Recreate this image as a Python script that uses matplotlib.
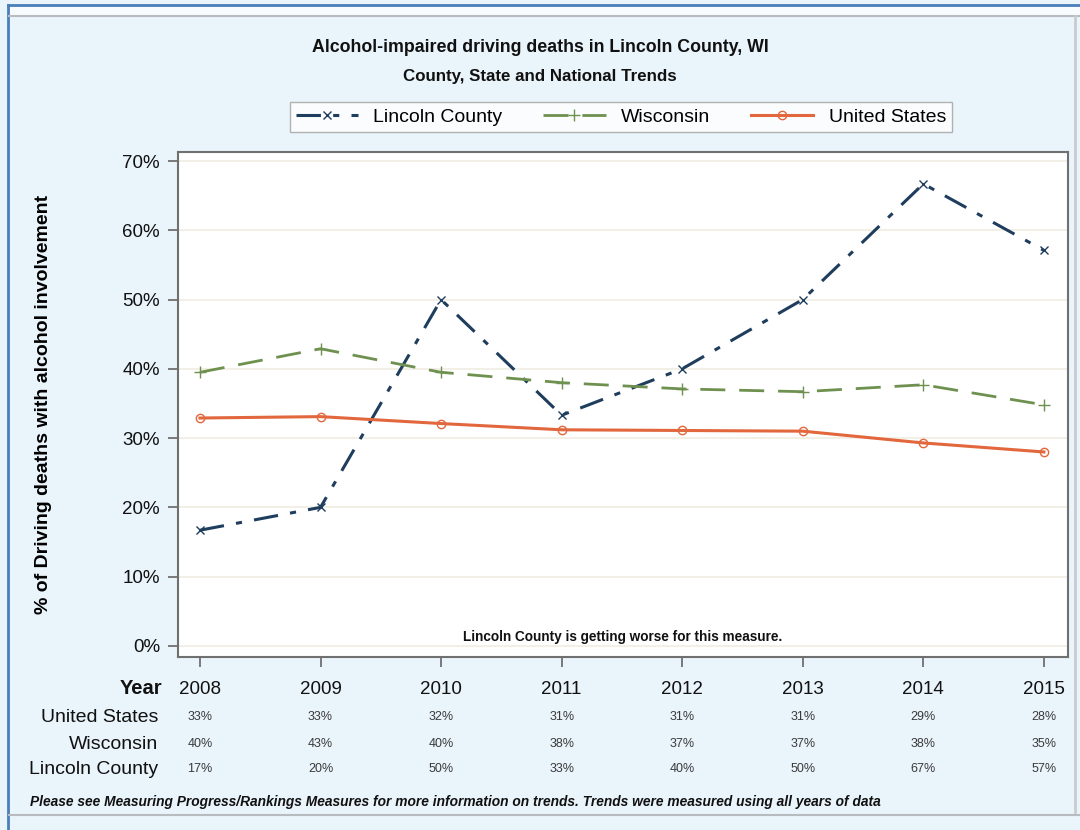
import matplotlib.pyplot as plt
from matplotlib.lines import Line2D
from matplotlib.patches import Rectangle
from matplotlib.transforms import blended_transform_factory

plt.rcParams["font.family"] = ["Liberation Sans", "DejaVu Sans"]

years = [2008, 2009, 2010, 2011, 2012, 2013, 2014, 2015]
lincoln = [16.7, 20.0, 50.0, 33.3, 40.0, 50.0, 66.7, 57.1]
wisconsin = [39.5, 42.9, 39.5, 38.0, 37.1, 36.7, 37.7, 34.8]
united_states = [32.9, 33.1, 32.1, 31.2, 31.1, 31.0, 29.3, 28.0]

us_labels = ["33%", "33%", "32%", "31%", "31%", "31%", "29%", "28%"]
wi_labels = ["40%", "43%", "40%", "38%", "37%", "37%", "38%", "35%"]
lc_labels = ["17%", "20%", "50%", "33%", "40%", "50%", "67%", "57%"]

BG = "#eaf4fb"
NAVY = "#1f3d5c"
GREEN = "#6f9150"
ORANGE = "#e2673d"

fig = plt.figure(figsize=(10.8, 8.3), dpi=100)
fig.patch.set_facecolor(BG)

# outer frame decorations
fig.add_artist(Line2D([8 / 1080, 8 / 1080], [0, 1 - 5 / 830], transform=fig.transFigure,
                      color="#4a7ebb", lw=2))
fig.add_artist(Line2D([8 / 1080, 1], [1 - 5 / 830, 1 - 5 / 830], transform=fig.transFigure,
                      color="#4a7ebb", lw=2))
fig.add_artist(Rectangle((9 / 1080, 1 - 15 / 830), 1 - 9 / 1080, 9 / 830,
                         transform=fig.transFigure, facecolor="#f7fbfd", edgecolor="none"))
fig.add_artist(Line2D([9 / 1080, 1], [1 - 16 / 830, 1 - 16 / 830], transform=fig.transFigure,
                      color="#b8bcc0", lw=1.5))
fig.add_artist(Line2D([1075 / 1080, 1075 / 1080], [16 / 830, 1 - 16 / 830],
                      transform=fig.transFigure, color="#c8ccd0", lw=2))
fig.add_artist(Line2D([9 / 1080, 1], [15 / 830, 15 / 830], transform=fig.transFigure,
                      color="#b8bcc0", lw=1.5))

ax = fig.add_axes([178 / 1080, 1 - 657 / 830, 890 / 1080, 505 / 830])
ax.set_facecolor("white")

ax.plot(years, lincoln, color=NAVY, lw=2.2, linestyle=(0, (8, 4, 2, 4)),
        marker="x", markersize=6, markeredgewidth=1.0, label="Lincoln County")
ax.plot(years, wisconsin, color=GREEN, lw=2.0, linestyle=(0, (9, 5)),
        marker="+", markersize=8, markeredgewidth=1.0, label="Wisconsin")
ax.plot(years, united_states, color=ORANGE, lw=2.2, linestyle="-",
        marker="o", markersize=6, markerfacecolor="none", markeredgewidth=1.0,
        label="United States")

ax.set_xlim(2007.818, 2015.2)
ax.set_ylim(-1.6, 71.3)
ax.set_yticks(range(0, 71, 10))
ax.set_yticklabels([f"{v}%" for v in range(0, 71, 10)])
ax.set_xticks(years)
ax.set_xticklabels([str(y) for y in years])
ax.grid(axis="y", color="#f0ece2", lw=1.2)
ax.set_axisbelow(True)
for s in ax.spines.values():
    s.set_color("#707070")
    s.set_linewidth(1.5)
ax.tick_params(axis="both", direction="out", length=7, width=1.3, color="#707070",
               labelsize=13.5, labelcolor="#111111", pad=6)
ax.tick_params(axis="x", pad=10)

ax.set_ylabel("% of Driving deaths with alcohol involvement", fontsize=14,
              fontweight="bold")
ax.yaxis.set_label_coords(-126 / 890, 0.5)

ax.text(0.5, 0.025, "Lincoln County is getting worse for this measure.",
        transform=ax.transAxes, ha="center", va="bottom", fontsize=9.8,
        fontweight="bold", color="#111111")

fig.text(0.5, 1 - 48 / 830,
         "Alcohol-impaired driving deaths in Lincoln County, WI",
         ha="center", va="center", fontsize=12.8, fontweight="bold", color="#111111")
fig.text(0.5, 1 - 77 / 830,
         "County, State and National Trends",
         ha="center", va="center", fontsize=12.2, fontweight="bold", color="#111111")

leg = fig.legend(loc="center", bbox_to_anchor=(621 / 1080, 1 - 117 / 830), ncol=3,
                 frameon=True, fancybox=False, fontsize=14, handlelength=3.2,
                 columnspacing=2.1, handletextpad=0.8, borderpad=0.3)
leg.get_frame().set_edgecolor("#a0a0a0")
leg.get_frame().set_linewidth(1.0)

# data table under the axis
tr = blended_transform_factory(ax.transData, fig.transFigure)
fig.text(162 / 1080, 1 - 688 / 830, "Year", ha="right", va="center",
         fontsize=14.5, fontweight="bold", color="#111111")
rows = [("United States", us_labels, 717), ("Wisconsin", wi_labels, 744),
        ("Lincoln County", lc_labels, 769)]
for name, labels, ypix in rows:
    fig.text(158 / 1080, 1 - ypix / 830, name, ha="right", va="center",
             fontsize=14, color="#111111")
    for yr, lab in zip(years, labels):
        ax.text(yr, 1 - ypix / 830, lab, transform=tr, ha="center", va="center",
                fontsize=9, color="#3a3a3a")

fig.text(30 / 1080, 1 - 802 / 830,
         "Please see Measuring Progress/Rankings Measures for more information on trends. "
         "Trends were measured using all years of data",
         ha="left", va="center", fontsize=9.9, fontweight="bold", fontstyle="italic",
         color="#111111")

fig.savefig("out.png", dpi=100, facecolor=fig.get_facecolor())
